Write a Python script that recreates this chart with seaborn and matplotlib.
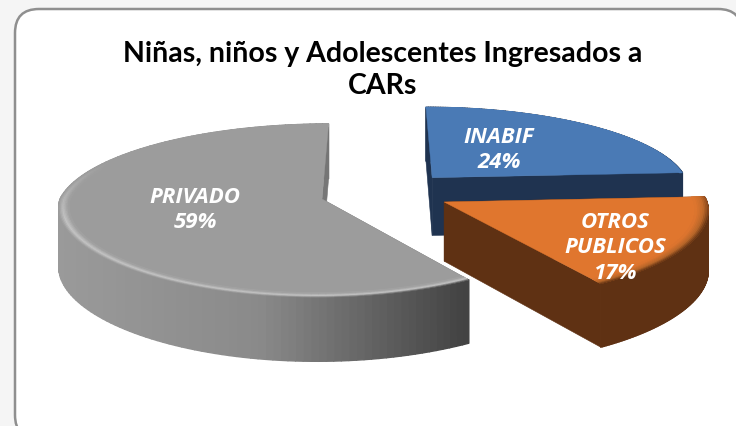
"""
3D exploded pie of children and teenagers admitted to CARs, drawn with a small perspective projection
"""

import numpy as np
import matplotlib
matplotlib.use("Agg")
import matplotlib.pyplot as plt
from matplotlib.collections import PolyCollection
from matplotlib.patches import FancyBboxPatch, Polygon
from matplotlib.colors import to_rgb
import seaborn as sns

categories = ["INABIF", "OTROS\nPUBLICOS", "PRIVADO"]
values = [24, 17, 59]
title = "Niñas, niños y Adolescentes Ingresados a\nCARs"

top_colors = ["#4a7ab5", "#e0762e", "#9c9c9c"]
side_colors = ["#1f3350", "#5f3113", "#777777"]

# projection settings, in pixels of the 736x427 picture
VX, VY = 378, 200
RADIUS, RY, PERSP, HEIGHT = 262, 85, 0.133, 59
offsets = {"INABIF": (56, 0.26), "OTROS\nPUBLICOS": (66, -0.035), "PRIVADO": (-56, 0.0)}
label_pos = {"INABIF": (499, 150), "OTROS\nPUBLICOS": (615, 248), "PRIVADO": (195, 210)}


def project(x, depth, low=False):
    s = 1 / (1 + PERSP * depth)
    # the front of the pie spreads less in x than in y
    sx = s if depth > 0 else 1 + (s - 1) * 0.6
    drop = HEIGHT * s ** 0.6 if low else 0.0
    return VX + x * sx, VY - RY * depth * s + drop


def arc_points(cat, phi, frac=1.0, low=False):
    ox, oy = offsets[cat]
    pts = [project(ox + RADIUS * frac * np.sin(p), oy + frac * np.cos(p), low) for p in np.atleast_1d(phi)]
    xs, ys = np.array(pts).T
    return xs, ys


def mix(a, b, t):
    a, b = np.array(to_rgb(a)), np.array(to_rgb(b))
    return tuple(a + (b - a) * np.clip(t, 0, 1))


def draw_slice(ax, cat, start, end, top, side, rim_light, rim_width, z):
    phi = np.linspace(start, end, 140)
    x0, y0 = arc_points(cat, 0.0, 0.0)
    x1, y1 = arc_points(cat, 0.0, 0.0, True)
    apex, apex_low = (x0[0], y0[0]), (x1[0], y1[0])

    # cut faces
    for edge in (start, end):
        px, py = arc_points(cat, edge)
        qx, qy = arc_points(cat, edge, 1.0, True)
        ax.add_patch(Polygon([apex, (px[0], py[0]), (qx[0], qy[0]), apex_low], fc=side, ec=side, lw=0.4, zorder=z))

    # outer wall, strips coloured along x for the grey slice
    xt, yt = arc_points(cat, phi)
    xb, yb = arc_points(cat, phi, 1.0, True)
    quads = [[(xt[i], yt[i]), (xt[i + 1], yt[i + 1]), (xb[i + 1], yb[i + 1]), (xb[i], yb[i])] for i in range(len(phi) - 1)]
    if cat == "PRIVADO":
        ramp = sns.blend_palette(["#9a9a9a", "#8a8a8a", "#434343"], 256)
        walls = [ramp[int(np.clip((x - 58) / (465 - 58), 0, 1) * 255)] for x in xt[:-1]]
    else:
        walls = [side] * len(quads)
    ax.add_collection(PolyCollection(quads, facecolors=walls, edgecolors=walls, linewidths=1.0, zorder=z + 1))

    # flat top
    ax.add_patch(Polygon([apex] + list(zip(xt, yt)), fc=top, ec=top, lw=0.3, zorder=z + 2))

    # bevel on the rim, only towards the viewer
    steps = 8
    rings, ring_cols = [], []
    for k in range(steps):
        f0 = 1 - rim_width * k / steps
        f1 = 1 - rim_width * (k + 1) / steps
        t = 1 - (k + 0.5) / steps
        xa, ya = arc_points(cat, phi, f0)
        xc, yc = arc_points(cat, phi, f1)
        for i in range(len(phi) - 1):
            front = np.clip((0.45 - np.cos(phi[i])) / 0.7, 0, 1)
            if t > 0.55:
                base = mix(rim_light, walls[i], (t - 0.55) / 0.45)
            else:
                base = mix(top, rim_light, t / 0.55)
            rings.append([(xa[i], ya[i]), (xa[i + 1], ya[i + 1]), (xc[i + 1], yc[i + 1]), (xc[i], yc[i])])
            ring_cols.append(mix(top, base, front))
    ax.add_collection(PolyCollection(rings, facecolors=ring_cols, edgecolors=ring_cols, linewidths=0.6, zorder=z + 3))


sns.set_theme(style="white")
plt.rcParams["font.family"] = ["Lato", "DejaVu Sans"]

fig = plt.figure(figsize=(7.36, 4.27), dpi=100, facecolor="#f5f5f5")
ax = fig.add_axes([0, 0, 1, 1])
ax.set_xlim(0, 736)
ax.set_ylim(427, 0)
ax.axis("off")

ax.add_patch(FancyBboxPatch((15, 10), 727, 430, boxstyle="round,pad=0,rounding_size=24",
                            fc="white", ec="#8f8f8f", lw=1.8, zorder=0))

angles = np.concatenate([[0], np.cumsum(values)]) / sum(values) * 2 * np.pi
# blue sits at the back, then grey, orange is the closest one
order = {"INABIF": 1, "PRIVADO": 10, "OTROS\nPUBLICOS": 20}
rims = {"INABIF": ("#4f80bb", 0.012), "OTROS\nPUBLICOS": ("#b9672a", 0.05), "PRIVADO": ("#c4c4c4", 0.04)}
for i, cat in enumerate(categories):
    draw_slice(ax, cat, angles[i], angles[i + 1], top_colors[i], side_colors[i], rims[cat][0], rims[cat][1], order[cat])

for cat, val in zip(categories, values):
    x, y = label_pos[cat]
    ax.text(x, y, f"{cat}\n{val}%", color="white", fontsize=16, fontweight="bold", fontstyle="italic",
            family="Open Sans", ha="center", va="center", linespacing=1.3, zorder=40)

ax.text(383, 70, title, color="black", fontsize=20.5, fontweight="bold", ha="center", va="center",
        linespacing=1.32, zorder=40)

fig.savefig("out.png", dpi=100, facecolor=fig.get_facecolor())
